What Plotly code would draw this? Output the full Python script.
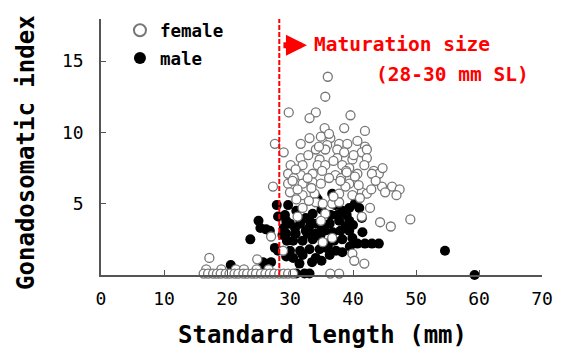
import plotly.graph_objects as go

# ---- data ----
female_x = [36.0, 35.6, 29.8, 34.1, 33.1, 39.6, 38.6, 35.5, 41.9, 27.6, 31.7, 33.1, 34.9, 36.4, 35.9,
            37.8, 39.1, 40.7, 41.9, 34.1, 35.6, 37.5, 38.6, 41.4, 42.2, 31.7, 34.7, 37.5, 39.9, 42.2,
            30.1, 32.0, 34.4, 35.6, 38.3, 39.4, 41.8, 43.3, 44.1, 44.7, 43.0, 29.7, 31.7, 33.6, 37.2,
            40.7, 29.7, 32.0, 33.6, 34.9, 39.4, 38.8, 44.6, 46.2, 47.4, 45.1, 46.9, 41.4, 30.0, 32.0,
            33.9, 37.8, 39.9, 42.2, 27.3, 34.1, 35.2, 36.7, 37.8, 42.7, 35.6, 32.0, 31.2, 34.9, 41.4,
            44.3, 46.0, 49.1, 39.9, 40.2, 41.8, 36.7, 35.2, 27.0, 28.9, 17.2, 24.8,
            16.7, 19.1, 21.4, 22.7, 24.7, 26.6,
            16.3, 17.0, 17.8, 18.4, 19.0, 19.8, 20.4, 21.2, 21.8, 22.6, 23.2, 24.0, 24.6, 25.4,
            26.1, 26.8, 27.5, 28.3, 29.0, 29.7, 30.5, 36.4, 37.8,
            29.0, 30.6, 32.8, 36.2, 38.1, 40.3, 43.6, 31.0, 36.9, 33.0, 30.4, 38.9,
            32.9, 34.6, 36.9, 40.1, 31.2, 33.4, 35.1, 38.0, 40.9, 42.9, 30.9, 36.2, 39.0, 41.1]
female_y = [13.9, 12.5, 11.4, 11.4, 11.0, 11.2, 10.3, 10.3, 10.1, 9.2, 9.2, 9.6, 9.7, 9.6, 9.1,
            9.2, 9.2, 9.4, 9.0, 8.8, 8.8, 8.8, 8.6, 8.6, 8.8, 8.2, 8.1, 8.2, 8.1, 8.2,
            7.7, 7.7, 7.7, 7.7, 7.7, 7.5, 7.7, 7.3, 7.1, 7.5, 7.1, 7.1, 7.0, 7.1, 7.0,
            7.1, 6.4, 6.4, 6.5, 6.4, 6.4, 6.2, 6.2, 6.2, 6.0, 5.8, 5.6, 5.8, 5.8, 5.6,
            5.7, 5.7, 5.6, 5.7, 6.2, 5.1, 5.0, 5.0, 5.1, 4.7, 4.3, 4.7, 4.1, 3.8, 4.1,
            3.7, 3.4, 3.9, 1.5, 1.0, 0.8, 2.6, 2.3, 2.7, 1.7, 1.2, 1.1,
            0.4, 0.4, 0.4, 0.4, 0.4, 0.4,
            0.1, 0.1, 0.1, 0.1, 0.1, 0.1, 0.1, 0.1, 0.1, 0.1, 0.1, 0.1, 0.1, 0.1,
            0.1, 0.1, 0.1, 0.1, 0.1, 0.1, 0.1, 0.1, 0.1,
            8.6, 6.8, 6.8, 6.8, 6.8, 6.9, 6.6, 5.3, 5.5, 5.2, 6.6, 7.3,
            8.4, 9.0, 8.0, 8.4, 6.0, 6.1, 7.3, 6.6, 6.3, 6.0, 7.4, 9.9, 7.2, 5.4]

male_x = [29.7, 29.2, 34.1, 37.0, 37.2, 33.6, 38.3, 39.4, 41.0, 41.4, 30.0, 31.6, 33.1, 34.1, 36.3,
          37.8, 39.4, 29.4, 30.9, 32.5, 34.1, 35.5, 38.0, 39.4, 30.5, 32.0, 33.6, 38.3, 39.9,
          40.7, 41.9, 43.0, 44.1, 30.0, 31.6, 33.1, 34.7, 38.3, 34.1, 36.3, 32.0, 30.5, 31.0,
          32.3, 33.1, 54.6, 59.3,
          23.7, 25.0, 25.3, 26.2, 26.8, 27.9, 28.1, 27.6, 28.1, 29.4, 29.5, 20.6, 25.7, 27.0, 25.4,
          34.4, 36.7, 40.3, 35.0, 36.5, 31.0, 32.5, 37.5, 40.0, 36.0, 37.3, 30.8, 35.0, 38.8, 36.8,
          33.0, 29.4, 39.5, 37.0, 35.0, 33.5, 31.5, 41.5, 29.0, 28.8, 34.8, 36.0, 32.8, 35.8, 39.0]
male_y = [4.9, 4.2, 5.5, 5.3, 4.9, 4.3, 4.5, 4.7, 4.7, 4.0, 3.6, 3.6, 3.8, 3.6, 3.6,
          3.8, 3.8, 2.9, 2.9, 3.1, 2.9, 3.1, 3.1, 3.1, 2.4, 2.4, 2.5, 2.5, 2.6,
          2.2, 2.2, 2.2, 2.2, 1.7, 1.7, 1.8, 1.8, 1.6, 1.2, 1.4, 1.4, 1.2, 0.1,
          0.1, 0.1, 1.7, 0.0,
          2.5, 3.8, 3.3, 3.2, 3.1, 4.9, 4.1, 1.9, 1.7, 3.8, 2.4, 0.7, 0.9, 0.9, 0.3,
          5.3, 5.7, 5.0, 4.6, 4.2, 4.5, 4.0, 4.2, 3.5, 2.0, 1.7, 3.3, 3.4, 3.4, 3.0,
          3.3, 1.3, 2.0, 2.4, 1.0, 0.9, 0.8, 3.0, 3.3, 2.8, 2.7, 2.2, 2.9, 1.9, 4.2]

maturation_sl = 28.3
x_ticks = [0, 10, 20, 30, 40, 50, 60, 70]
y_ticks = [5, 10, 15]

FONT = "DejaVu Sans Mono"
W, H = 565, 351
ML, MR, MT, MB = 101, 18, 13, 76

fig = go.Figure()
fig.add_trace(go.Scatter(
    x=male_x, y=male_y, mode="markers", name="male", legendgroup="m", legendrank=2,
    marker=dict(symbol="circle", size=10, color="black", line=dict(color="black", width=0)),
    cliponaxis=False))
fig.add_trace(go.Scatter(
    x=female_x, y=female_y, mode="markers", name="female", legendgroup="f", legendrank=1,
    marker=dict(symbol="circle", size=9, color="white", line=dict(color="#777777", width=1.3)),
    cliponaxis=False))

fig.add_shape(type="line", x0=maturation_sl, x1=maturation_sl, xref="x", y0=0, y1=1, yref="y domain",
              line=dict(color="#ff0000", width=2, dash="5px,2px"))

red_font = dict(family=FONT, size=19.5, color="#ff0000", weight="bold")
fig.add_annotation(x=0.478, y=0.899, xref="paper", yref="paper", text="Maturation size",
                   showarrow=False, xanchor="left", yanchor="middle", font=red_font)
fig.add_annotation(x=0.619, y=0.785, xref="paper", yref="paper", text="(28-30 mm SL)",
                   showarrow=False, xanchor="left", yanchor="middle", font=red_font)
fig.add_annotation(x=0.467, y=0.897, xref="paper", yref="paper", ax=-25, ay=0, text="",
                   showarrow=True, arrowhead=2, arrowwidth=6, arrowsize=0.7, arrowcolor="#ff0000")

title_font = dict(family=FONT, size=24, color="black", weight="bold")
fig.add_annotation(x=-0.170, y=0.477, xref="paper", yref="paper", text="Gonadosomatic index",
                   textangle=-90, showarrow=False, xanchor="center", yanchor="middle", font=title_font)
fig.add_annotation(x=0.502, y=-0.236, xref="paper", yref="paper", text="Standard length (mm)",
                   showarrow=False, xanchor="center", yanchor="middle", font=title_font)

tick_font = dict(family=FONT, size=18, color="black")
fig.update_xaxes(range=[0, 70], tickvals=x_ticks, ticks="inside", ticklen=5, tickcolor="#555555",
                 showline=True, linecolor="#555555", linewidth=1.5, showgrid=False, zeroline=False,
                 tickfont=tick_font, ticklabelstandoff=7)
fig.update_yaxes(range=[0, 17.95], tickvals=y_ticks, ticks="inside", ticklen=5, tickcolor="#555555",
                 showline=True, linecolor="#555555", linewidth=1.5, showgrid=False, zeroline=False,
                 tickfont=tick_font, ticklabelstandoff=12)

fig.update_layout(
    width=W, height=H, autosize=False,
    margin=dict(l=ML, r=MR, t=MT, b=MB),
    paper_bgcolor="white", plot_bgcolor="white",
    showlegend=True,
    legend=dict(x=0.043, y=1.026, xanchor="left", yanchor="top", traceorder="grouped",
                tracegroupgap=2, itemsizing="constant", bgcolor="rgba(0,0,0,0)",
                font=dict(family=FONT, size=17.5, color="black", weight="bold")),
)

fig.write_html("out.html")
